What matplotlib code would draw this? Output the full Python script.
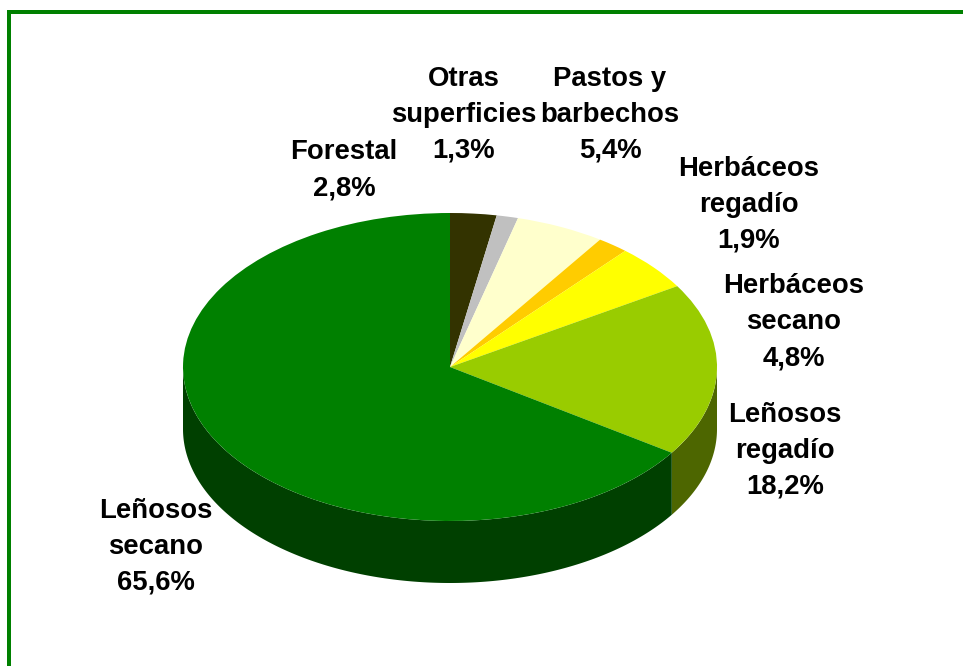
import numpy as np
import matplotlib
matplotlib.use('Agg')
import matplotlib.pyplot as plt
from matplotlib.patches import Rectangle

plt.rcParams['font.family'] = ['Liberation Sans', 'DejaVu Sans']

W, H = 963, 666

# values in drawing order, clockwise from 12 o'clock
labels = ['Forestal', 'Otras\nsuperficies', 'Pastos y\nbarbechos', 'Herbáceos\nregadío',
          'Herbáceos\nsecano', 'Leñosos\nregadío', 'Leñosos\nsecano']
values = [2.8, 1.3, 5.4, 1.9, 4.8, 18.2, 65.6]
value_text = ['2,8%', '1,3%', '5,4%', '1,9%', '4,8%', '18,2%', '65,6%']
colors = ['#333300', '#C0C0C0', '#FFFFCC', '#FFCC00', '#FFFF00', '#99CC00', '#008000']
side_colors = ['#1A1A00', '#606060', '#808066', '#806600', '#808000', '#4D6600', '#004000']
label_pos = [(344, 170), (464, 115), (610, 115), (749, 205), (794, 322), (785, 451), (156, 547)]

CX, CY, RX, RY, DEPTH = 450, 367, 267, 154, 62

fig = plt.figure(figsize=(W / 100, H / 100), dpi=100)

# full figure axes in pixel coords for the border and labels
bg = fig.add_axes([0, 0, 1, 1])
bg.set_xlim(0, W)
bg.set_ylim(H, 0)
bg.axis('off')
bg.add_patch(Rectangle((7, 10), W - 7, 4, fc='#008000', ec='none'))
bg.add_patch(Rectangle((7, 10), 4, H - 10, fc='#008000', ec='none'))

# pie axes sits on the bounding box of the ellipse, so the circle is squashed
ax = fig.add_axes([(CX - RX) / W, 1 - (CY + RY) / H, 2 * RX / W, 2 * RY / H])
ax.patch.set_alpha(0)
ax.pie(values, colors=colors, startangle=90, counterclock=False, radius=1,
       wedgeprops={'linewidth': 0, 'zorder': 3})
ax.set_aspect('auto')
ax.set_xlim(-1, 1)
ax.set_ylim(-1, 1)
for sp in ax.spines.values():
    sp.set_visible(False)

# side wall of the slices facing the viewer
d = DEPTH / RY
edges = np.cumsum([0] + values) / sum(values) * 2 * np.pi
for i in range(len(values)):
    a0, a1 = max(edges[i], np.pi / 2), min(edges[i + 1], 1.5 * np.pi)
    if a1 <= a0:
        continue
    t = np.linspace(a0, a1, 200)
    x, y = np.sin(t), np.cos(t)
    ax.fill(np.r_[x, x[::-1]], np.r_[y, y[::-1] - d], fc=side_colors[i], ec='none',
            zorder=2, clip_on=False)

for lab, val, (px, py) in zip(labels, value_text, label_pos):
    bg.text(px, py, lab + '\n' + val, ha='center', va='center', fontsize=19.8,
            fontweight='bold', color='black', linespacing=1.5, zorder=5)

fig.savefig('out.png', dpi=100)
